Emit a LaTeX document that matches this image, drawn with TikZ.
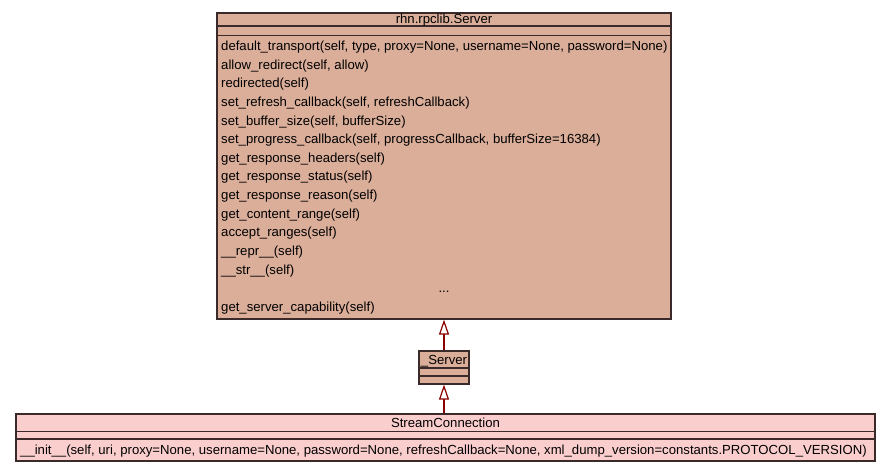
\documentclass[tikz,border=0pt]{standalone}
\usepackage{fontspec}
\setmainfont{Liberation Sans}
\usetikzlibrary{arrows.meta}
\definecolor{boxfill}{RGB}{219,174,154}
\definecolor{pinkfill}{RGB}{251,206,206}
\definecolor{edgecol}{RGB}{58,42,42}
\definecolor{inherit}{RGB}{139,0,0}
\begin{document}
\begin{tikzpicture}[x=1pt,y=-1pt,
    classbox/.style={draw=edgecol, line width=1.2pt, inner sep=0pt},
    sepline/.style={edgecol, line width=1.2pt},
    member/.style={anchor=base west, inner sep=0pt, font=\fontsize{13.15}{15}\selectfont},
    title/.style={anchor=base, inner sep=0pt, font=\fontsize{13.15}{15}\selectfont},
    isa/.style={inherit, line width=2.2pt, -{Triangle[fill=white, line width=1.2pt, length=15pt, width=10pt]}}]

                    \useasboundingbox (0,0) rectangle (891,472);

                    % rhn.rpclib.Server
                    \node[classbox, fill=boxfill, minimum width=454pt, minimum height=306pt] (server) at (444,166) {};
                    \draw[sepline] (217,26) -- (671,26);
                    \draw[sepline] (217,35.5) -- (671,35.5);
                    \node[title] (servertitle) at (444,23.5) {rhn.rpclib.Server};
                    \foreach \txt [count=\i from 0] in {%
                        {default\_transport(self, type, proxy=None, username=None, password=None)},
                        {allow\_redirect(self, allow)},
                        {redirected(self)},
                        {set\_refresh\_callback(self, refreshCallback)},
                        {set\_buffer\_size(self, bufferSize)},
                        {set\_progress\_callback(self, progressCallback, bufferSize=16384)},
                        {get\_response\_headers(self)},
                        {get\_response\_status(self)},
                        {get\_response\_reason(self)},
                        {get\_content\_range(self)},
                        {accept\_ranges(self)},
                        {\_\_repr\_\_(self)},
                        {\_\_str\_\_(self)}}
                        \node[member] (m\i) at (221,50.5+18.64*\i) {\txt};
                    \node[title] (dots) at (444,292.8) {...};
                    \node[member] (m14) at (221,311.4) {get\_server\_capability(self)};

                    % _Server
                    \node[classbox, fill=boxfill, minimum width=50pt, minimum height=33pt] (priv) at (444,367.5) {};
                    \draw[sepline] (419,368) -- (469,368);
                    \draw[sepline] (419,376) -- (469,376);
                    \node[title] (privtitle) at (444,364.5) {\_Server};

                    % StreamConnection
                    \node[classbox, fill=pinkfill, minimum width=859pt, minimum height=47pt] (stream) at (445.5,437.5) {};
                    \draw[sepline] (16,431.5) -- (875,431.5);
                    \draw[sepline] (16,439) -- (875,439);
                    \node[title] (streamtitle) at (445.5,427.5) {StreamConnection};
                    \node[member] (init) at (20,454.5) {\_\_init\_\_(self, uri, proxy=None, username=None, password=None, refreshCallback=None, xml\_dump\_version=constants.PROTOCOL\_VERSION)};

                    \draw[isa] (priv.north) -- (server.south);
                    \draw[isa] (stream.north -| priv.south) -- (priv.south);
                \end{tikzpicture}
\end{document}
